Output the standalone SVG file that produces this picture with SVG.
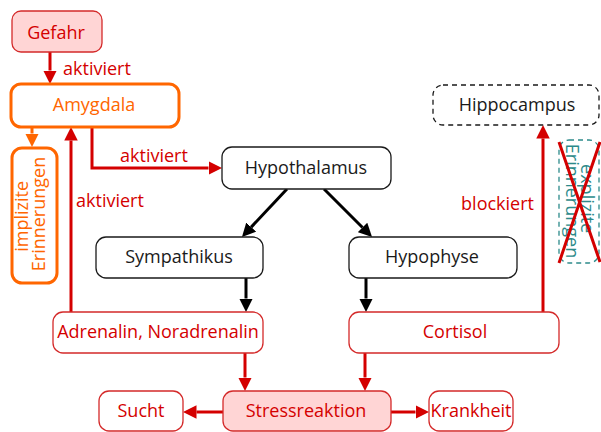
<svg xmlns="http://www.w3.org/2000/svg" width="601" height="432" viewBox="0 0 601 432">
  <style>
    text { font-family: "Open Sans", "Noto Sans", "DejaVu Sans", sans-serif; font-size: 18px; }
    .c { text-anchor: middle; }
    .dark { fill: #1a1a1a; }
    .red { fill: #d40000; }
    .orange { fill: #ff6600; }
    .teal { fill: #2c8a8a; }
    .box { fill: #ffffff; stroke: #1a1a1a; stroke-width: 1.3; }
    .rbox { fill: #ffffff; stroke: #d42a2a; stroke-width: 1.3; }
    .pbox { fill: #ffd5d5; stroke: #d42a2a; stroke-width: 1.3; }
    .obox { fill: #ffffff; stroke: #ff6600; stroke-width: 3; }
    .dbox { fill: #ffffff; stroke: #1a1a1a; stroke-width: 1.3; stroke-dasharray: 5 4; }
    .tbox { fill: none; stroke: #2c8a8a; stroke-width: 1.3; stroke-dasharray: 5 4; }
    .ar { fill: none; stroke: #d40000; stroke-width: 3; marker-end: url(#hr); }
    .ab { fill: none; stroke: #000000; stroke-width: 3; marker-end: url(#hb); }
    .ao { fill: none; stroke: #ff6600; stroke-width: 3; marker-end: url(#ho); }
  </style>
  <defs>
    <marker id="hr" viewBox="0 0 10 10" refX="0" refY="5" markerWidth="4.5" markerHeight="4.5" orient="auto">
      <path d="M0,0 L10,5 L0,10 z" fill="#d40000"/>
    </marker>
    <marker id="hb" viewBox="0 0 10 10" refX="0" refY="5" markerWidth="4.5" markerHeight="4.5" orient="auto">
      <path d="M0,0 L10,5 L0,10 z" fill="#000000"/>
    </marker>
    <marker id="ho" viewBox="0 0 10 10" refX="0" refY="5" markerWidth="4.5" markerHeight="4.5" orient="auto">
      <path d="M0,0 L10,5 L0,10 z" fill="#ff6600"/>
    </marker>
  </defs>

  <g id="connectors">
    <path class="ar" d="M50,52 V70.5"/>
    <path class="ao" d="M32,127 V133.5"/>
    <path class="ar" d="M71,312 V140.5"/>
    <path class="ar" d="M92,127 V168 H208.5"/>
    <path class="ab" d="M287,189 L251.2,227.1"/>
    <path class="ab" d="M324,189 L362.5,227.5"/>
    <path class="ab" d="M246,278 V298.5"/>
    <path class="ab" d="M366,278 V298.5"/>
    <path class="ar" d="M245,353 V377.5"/>
    <path class="ar" d="M365,353 V377.5"/>
    <path class="ar" d="M223,412 H196.5"/>
    <path class="ar" d="M391,412 H415.5"/>
    <path class="ar" d="M543,312 V138.5"/>
    <text class="red" x="63" y="75">aktiviert</text>
    <text class="red" x="120" y="162">aktiviert</text>
    <text class="red" x="76" y="207">aktiviert</text>
    <text class="red" x="534" y="210" text-anchor="end">blockiert</text>
  </g>

  <g id="gefahr">
    <rect class="pbox" x="12" y="11" width="90" height="41" rx="9"/>
    <text class="c red" x="56" y="39">Gefahr</text>
  </g>

  <g id="amygdala">
    <rect class="obox" x="11" y="84" width="168" height="43" rx="10"/>
    <text class="c orange" x="94" y="111">Amygdala</text>
  </g>

  <g id="implizite-erinnerungen">
    <rect class="obox" x="12" y="148" width="45" height="135" rx="10"/>
    <text class="c orange" transform="translate(33,214) rotate(-90)">
      <tspan x="0" y="-5">implizite</tspan>
      <tspan x="0" y="12">Erinnerungen</tspan>
    </text>
  </g>

  <g id="hypothalamus">
    <rect class="box" x="222" y="147" width="169" height="42" rx="10"/>
    <text class="c dark" x="306" y="174">Hypothalamus</text>
  </g>

  <g id="sympathikus">
    <rect class="box" x="96" y="237" width="167" height="41" rx="10"/>
    <text class="c dark" x="179" y="263">Sympathikus</text>
  </g>

  <g id="hypophyse">
    <rect class="box" x="349" y="237" width="168" height="41" rx="10"/>
    <text class="c dark" x="432" y="263">Hypophyse</text>
  </g>

  <g id="adrenalin">
    <rect class="rbox" x="53" y="312" width="210" height="41" rx="10"/>
    <text class="c red" x="158" y="338">Adrenalin, Noradrenalin</text>
  </g>

  <g id="cortisol">
    <rect class="rbox" x="349" y="312" width="210" height="41" rx="10"/>
    <text class="c red" x="455" y="338">Cortisol</text>
  </g>

  <g id="stressreaktion">
    <rect class="pbox" x="223" y="391" width="168" height="40" rx="10"/>
    <text class="c red" x="306" y="417">Stressreaktion</text>
  </g>

  <g id="sucht">
    <rect class="rbox" x="99" y="391" width="84" height="40" rx="10"/>
    <text class="c red" x="141" y="417">Sucht</text>
  </g>

  <g id="krankheit">
    <rect class="rbox" x="429" y="391" width="84" height="40" rx="10"/>
    <text class="c red" x="471" y="417">Krankheit</text>
  </g>

  <g id="hippocampus">
    <rect class="dbox" x="433" y="85" width="166" height="40" rx="10"/>
    <text class="c dark" x="517" y="111">Hippocampus</text>
  </g>

  <g id="explizite-erinnerungen">
    <rect class="tbox" x="559" y="140" width="40" height="123" rx="10"/>
    <text class="c teal" transform="translate(577,201) rotate(90)">
      <tspan x="0" y="-4">explizite</tspan>
      <tspan x="0" y="11">Erinnerungen</tspan>
    </text>
    <path d="M559,142 L600,262 M600,142 L559,263" stroke="#d40000" stroke-width="3" fill="none"/>
  </g>
</svg>
